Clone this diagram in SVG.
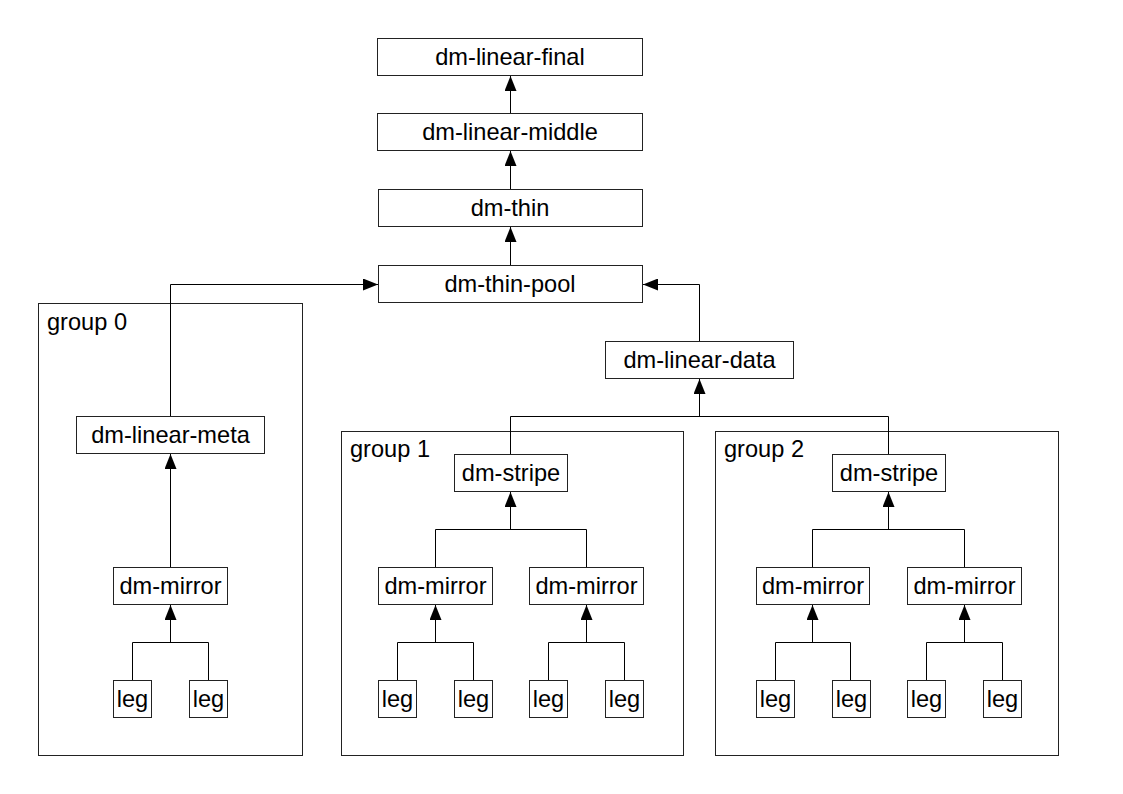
<svg xmlns="http://www.w3.org/2000/svg" width="1123" height="794" viewBox="0 0 1123 794">
<style>
.box{fill:#fff;stroke:#222;stroke-width:1}
.grp{fill:none;stroke:#222;stroke-width:1}
.t{font-family:"Liberation Sans",Arial,sans-serif;font-size:23.6px;fill:#000;text-anchor:middle}
.gl{font-family:"Liberation Sans",Arial,sans-serif;font-size:23.6px;fill:#000}
.c{fill:none;stroke:#000;stroke-width:1}
</style>
<defs>
<marker id="arr" viewBox="0 0 15 12" refX="15" refY="6" markerWidth="15" markerHeight="12" orient="auto" markerUnits="userSpaceOnUse">
<path d="M0,0 L15,6 L0,12 z" fill="#000"/>
</marker>
</defs>
<rect width="1123" height="794" fill="#fff"/>
<g id="group0"><rect class="grp" x="38.5" y="303.5" width="264" height="452"/><text class="gl" x="47" y="330">group 0</text></g>
<g id="group1"><rect class="grp" x="341.5" y="431.5" width="342" height="324"/><text class="gl" x="350" y="457">group 1</text></g>
<g id="group2"><rect class="grp" x="715.5" y="431.5" width="343" height="324"/><text class="gl" x="724" y="457">group 2</text></g>
<g id="connectors">
<path class="c" d="M510.5,113 V76" marker-end="url(#arr)"/>
<path class="c" d="M510.5,189 V151" marker-end="url(#arr)"/>
<path class="c" d="M510.5,265 V227" marker-end="url(#arr)"/>
<path class="c" d="M170.5,416 V284.5 H378" marker-end="url(#arr)"/>
<path class="c" d="M699.5,341 V284.5 H643" marker-end="url(#arr)"/>
<path class="c" d="M510.5,454 V416.5 H888.5 V454"/>
<path class="c" d="M699.5,416.5 V379" marker-end="url(#arr)"/>
<path class="c" d="M170.5,567 V454" marker-end="url(#arr)"/>
<path class="c" d="M132.5,680 V642.5 H208.5 V680"/>
<path class="c" d="M170.5,642.5 V605" marker-end="url(#arr)"/>
<path class="c" d="M435.5,567 V529.5 H586.5 V567"/>
<path class="c" d="M510.5,529.5 V492" marker-end="url(#arr)"/>
<path class="c" d="M397.5,680 V642.5 H473.5 V680"/>
<path class="c" d="M435.5,642.5 V605" marker-end="url(#arr)"/>
<path class="c" d="M548.5,680 V642.5 H624.5 V680"/>
<path class="c" d="M586.5,642.5 V605" marker-end="url(#arr)"/>
<path class="c" d="M812.5,567 V529.5 H964.5 V567"/>
<path class="c" d="M888.5,529.5 V492" marker-end="url(#arr)"/>
<path class="c" d="M775.5,680 V642.5 H850.5 V680"/>
<path class="c" d="M812.5,642.5 V605" marker-end="url(#arr)"/>
<path class="c" d="M926.5,680 V642.5 H1002.5 V680"/>
<path class="c" d="M964.5,642.5 V605" marker-end="url(#arr)"/>
</g>
<g id="dm-linear-final"><rect class="box" x="377.5" y="38.5" width="265" height="37"/><text class="t" x="510" y="65">dm-linear-final</text></g>
<g id="dm-linear-middle"><rect class="box" x="377.5" y="113.5" width="265" height="37"/><text class="t" x="510" y="140">dm-linear-middle</text></g>
<g id="dm-thin"><rect class="box" x="378.5" y="189.5" width="264" height="37"/><text class="t" x="510" y="216">dm-thin</text></g>
<g id="dm-thin-pool"><rect class="box" x="378.5" y="265.5" width="264" height="37"/><text class="t" x="510" y="292">dm-thin-pool</text></g>
<g id="dm-linear-meta"><rect class="box" x="76.5" y="416.5" width="188" height="37"/><text class="t" x="170.5" y="443">dm-linear-meta</text></g>
<g id="dm-mirror-0"><rect class="box" x="113.5" y="567.5" width="114" height="37"/><text class="t" x="170.5" y="594">dm-mirror</text></g>
<g id="leg-0a"><rect class="box" x="113.5" y="680.5" width="38" height="37"/><text class="t" x="132.5" y="707">leg</text></g>
<g id="leg-0b"><rect class="box" x="189.5" y="680.5" width="38" height="37"/><text class="t" x="208.5" y="707">leg</text></g>
<g id="dm-linear-data"><rect class="box" x="605.5" y="341.5" width="188" height="37"/><text class="t" x="699.5" y="368">dm-linear-data</text></g>
<g id="dm-stripe-1"><rect class="box" x="454.5" y="454.5" width="113" height="37"/><text class="t" x="511" y="481">dm-stripe</text></g>
<g id="dm-mirror-1a"><rect class="box" x="378.5" y="567.5" width="114" height="37"/><text class="t" x="435.5" y="594">dm-mirror</text></g>
<g id="dm-mirror-1b"><rect class="box" x="529.5" y="567.5" width="114" height="37"/><text class="t" x="586.5" y="594">dm-mirror</text></g>
<g id="leg-1a"><rect class="box" x="378.5" y="680.5" width="38" height="37"/><text class="t" x="397.5" y="707">leg</text></g>
<g id="leg-1b"><rect class="box" x="454.5" y="680.5" width="38" height="37"/><text class="t" x="473.5" y="707">leg</text></g>
<g id="leg-1c"><rect class="box" x="529.5" y="680.5" width="38" height="37"/><text class="t" x="548.5" y="707">leg</text></g>
<g id="leg-1d"><rect class="box" x="605.5" y="680.5" width="38" height="37"/><text class="t" x="624.5" y="707">leg</text></g>
<g id="dm-stripe-2"><rect class="box" x="832.5" y="454.5" width="113" height="37"/><text class="t" x="889" y="481">dm-stripe</text></g>
<g id="dm-mirror-2a"><rect class="box" x="756.5" y="567.5" width="113" height="37"/><text class="t" x="813" y="594">dm-mirror</text></g>
<g id="dm-mirror-2b"><rect class="box" x="907.5" y="567.5" width="114" height="37"/><text class="t" x="964.5" y="594">dm-mirror</text></g>
<g id="leg-2a"><rect class="box" x="756.5" y="680.5" width="38" height="37"/><text class="t" x="775.5" y="707">leg</text></g>
<g id="leg-2b"><rect class="box" x="832.5" y="680.5" width="38" height="37"/><text class="t" x="851.5" y="707">leg</text></g>
<g id="leg-2c"><rect class="box" x="907.5" y="680.5" width="38" height="37"/><text class="t" x="926.5" y="707">leg</text></g>
<g id="leg-2d"><rect class="box" x="983.5" y="680.5" width="38" height="37"/><text class="t" x="1002.5" y="707">leg</text></g>
</svg>
